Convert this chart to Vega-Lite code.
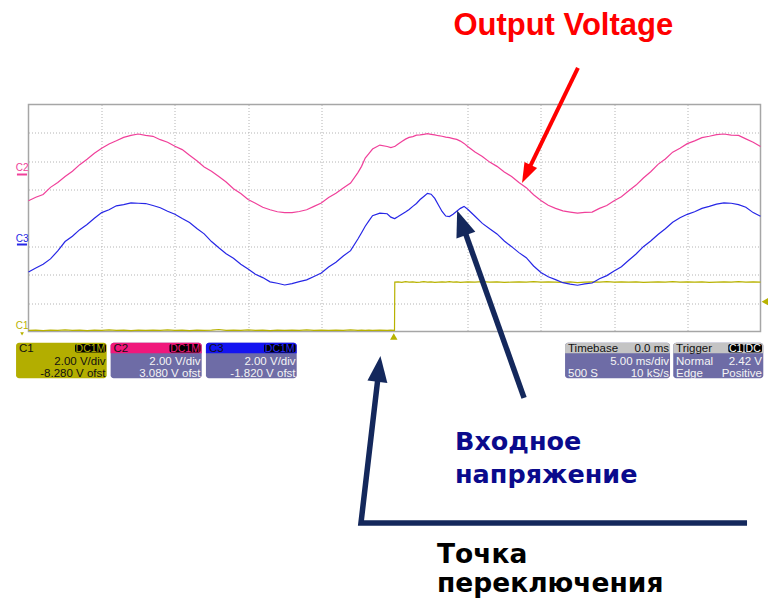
{
"$schema":"https://vega.github.io/schema/vega-lite/v6.json",
"width":732,"height":227,
"autosize":{"type":"none"},
"padding":{"left":28.5,"top":104.5,"right":7.5,"bottom":269.5},
"background":"#ffffff",
"config":{"view":{"stroke":"#a6a6a6","strokeWidth":1.5}},
"data":{"values":[
{"t":-25,"C2":0.61,"C3":-1.90,"C1":-3.96},
{"t":-24.5,"C2":0.73,"C3":-1.76,"C1":-3.95},
{"t":-24,"C2":0.83,"C3":-1.63,"C1":-3.97},
{"t":-23.5,"C2":1.08,"C3":-1.44,"C1":-3.95},
{"t":-23,"C2":1.25,"C3":-1.16,"C1":-3.96},
{"t":-22.5,"C2":1.46,"C3":-0.83,"C1":-3.94},
{"t":-22,"C2":1.65,"C3":-0.64,"C1":-3.96},
{"t":-21.5,"C2":1.88,"C3":-0.41,"C1":-3.95},
{"t":-21,"C2":2.07,"C3":-0.23,"C1":-3.97},
{"t":-20.5,"C2":2.28,"C3":-0.01,"C1":-3.95},
{"t":-20,"C2":2.46,"C3":0.19,"C1":-3.96},
{"t":-19.5,"C2":2.61,"C3":0.29,"C1":-3.94},
{"t":-19,"C2":2.72,"C3":0.43,"C1":-3.96},
{"t":-18.5,"C2":2.84,"C3":0.47,"C1":-3.95},
{"t":-18,"C2":2.91,"C3":0.53,"C1":-3.97},
{"t":-17.5,"C2":2.96,"C3":0.52,"C1":-3.95},
{"t":-17,"C2":2.91,"C3":0.51,"C1":-3.96},
{"t":-16.5,"C2":2.88,"C3":0.44,"C1":-3.95},
{"t":-16,"C2":2.76,"C3":0.36,"C1":-3.96},
{"t":-15.5,"C2":2.67,"C3":0.24,"C1":-3.94},
{"t":-15,"C2":2.53,"C3":0.13,"C1":-3.96},
{"t":-14.5,"C2":2.41,"C3":-0.02,"C1":-3.95},
{"t":-14,"C2":2.21,"C3":-0.16,"C1":-3.97},
{"t":-13.5,"C2":2.02,"C3":-0.37,"C1":-3.95},
{"t":-13,"C2":1.80,"C3":-0.56,"C1":-3.96},
{"t":-12.5,"C2":1.65,"C3":-0.83,"C1":-3.95},
{"t":-12,"C2":1.46,"C3":-1.05,"C1":-3.93},
{"t":-11.5,"C2":1.27,"C3":-1.26,"C1":-3.96},
{"t":-11,"C2":1.03,"C3":-1.42,"C1":-3.95},
{"t":-10.5,"C2":0.86,"C3":-1.63,"C1":-3.96},
{"t":-10,"C2":0.65,"C3":-1.80,"C1":-3.94},
{"t":-9.5,"C2":0.52,"C3":-1.98,"C1":-3.96},
{"t":-9,"C2":0.38,"C3":-2.10,"C1":-3.95},
{"t":-8.5,"C2":0.29,"C3":-2.25,"C1":-3.97},
{"t":-8,"C2":0.22,"C3":-2.30,"C1":-3.95},
{"t":-7.5,"C2":0.19,"C3":-2.36,"C1":-3.96},
{"t":-7,"C2":0.19,"C3":-2.31,"C1":-3.95},
{"t":-6.5,"C2":0.23,"C3":-2.24,"C1":-3.96},
{"t":-6,"C2":0.29,"C3":-2.18,"C1":-3.94},
{"t":-5.5,"C2":0.41,"C3":-2.06,"C1":-3.96},
{"t":-5,"C2":0.53,"C3":-1.94,"C1":-3.95},
{"t":-4.5,"C2":0.72,"C3":-1.73,"C1":-3.96},
{"t":-4,"C2":0.87,"C3":-1.56,"C1":-3.95},
{"t":-3.5,"C2":1.06,"C3":-1.34,"C1":-3.96},
{"t":-3,"C2":1.23,"C3":-1.15,"C1":-3.94},
{"t":-2.5,"C2":1.60,"C3":-0.74,"C1":-3.96},
{"t":-2.25,"C2":1.82,"C3":-0.52,"C1":-3.95},
{"t":-2,"C2":2.11,"C3":-0.29,"C1":-3.96},
{"t":-1.75,"C2":2.27,"C3":-0.10,"C1":-3.95},
{"t":-1.5,"C2":2.43,"C3":0.08,"C1":-3.96},
{"t":-1,"C2":2.57,"C3":0.17,"C1":-3.95},
{"t":-0.5,"C2":2.52,"C3":0.15,"C1":-3.96},
{"t":-0.25,"C2":2.48,"C3":0.03,"C1":-3.95},
{"t":0,"C2":2.52,"C3":-0.02,"C1":-3.96},
{"t":0.02,"C2":2.52,"C3":-0.02,"C1":-2.26},
{"t":0.25,"C2":2.61,"C3":0.05,"C1":-2.25},
{"t":0.5,"C2":2.70,"C3":0.13,"C1":-2.27},
{"t":0.75,"C2":2.78,"C3":0.21,"C1":-2.24},
{"t":1,"C2":2.84,"C3":0.30,"C1":-2.26},
{"t":1.25,"C2":2.87,"C3":0.41,"C1":-2.25},
{"t":1.5,"C2":2.92,"C3":0.51,"C1":-2.27},
{"t":1.75,"C2":2.93,"C3":0.65,"C1":-2.26},
{"t":2,"C2":2.95,"C3":0.76,"C1":-2.24},
{"t":2.25,"C2":2.97,"C3":0.87,"C1":-2.26},
{"t":2.5,"C2":2.95,"C3":0.84,"C1":-2.25},
{"t":2.75,"C2":2.93,"C3":0.69,"C1":-2.27},
{"t":3,"C2":2.90,"C3":0.46,"C1":-2.26},
{"t":3.25,"C2":2.88,"C3":0.23,"C1":-2.25},
{"t":3.5,"C2":2.85,"C3":0.07,"C1":-2.26},
{"t":3.75,"C2":2.83,"C3":0.05,"C1":-2.24},
{"t":4,"C2":2.80,"C3":0.13,"C1":-2.26},
{"t":4.25,"C2":2.77,"C3":0.24,"C1":-2.25},
{"t":4.5,"C2":2.71,"C3":0.34,"C1":-2.27},
{"t":4.75,"C2":2.63,"C3":0.41,"C1":-2.26},
{"t":5,"C2":2.52,"C3":0.31,"C1":-2.25},
{"t":5.5,"C2":2.33,"C3":0.06,"C1":-2.26},
{"t":6,"C2":2.17,"C3":-0.19,"C1":-2.24},
{"t":6.5,"C2":1.97,"C3":-0.38,"C1":-2.26},
{"t":7,"C2":1.82,"C3":-0.56,"C1":-2.25},
{"t":7.5,"C2":1.62,"C3":-0.81,"C1":-2.27},
{"t":8,"C2":1.46,"C3":-1.01,"C1":-2.26},
{"t":8.5,"C2":1.25,"C3":-1.22,"C1":-2.25},
{"t":9,"C2":1.07,"C3":-1.40,"C1":-2.26},
{"t":9.5,"C2":0.82,"C3":-1.69,"C1":-2.24},
{"t":10,"C2":0.62,"C3":-1.92,"C1":-2.26},
{"t":10.5,"C2":0.45,"C3":-2.07,"C1":-2.25},
{"t":11,"C2":0.34,"C3":-2.17,"C1":-2.26},
{"t":11.5,"C2":0.25,"C3":-2.28,"C1":-2.27},
{"t":12,"C2":0.21,"C3":-2.33,"C1":-2.25},
{"t":12.5,"C2":0.17,"C3":-2.37,"C1":-2.28},
{"t":13,"C2":0.20,"C3":-2.32,"C1":-2.26},
{"t":13.5,"C2":0.21,"C3":-2.29,"C1":-2.25},
{"t":14,"C2":0.34,"C3":-2.14,"C1":-2.26},
{"t":14.5,"C2":0.44,"C3":-2.03,"C1":-2.24},
{"t":15,"C2":0.61,"C3":-1.87,"C1":-2.26},
{"t":15.5,"C2":0.75,"C3":-1.72,"C1":-2.25},
{"t":16,"C2":0.96,"C3":-1.49,"C1":-2.26},
{"t":16.5,"C2":1.16,"C3":-1.27,"C1":-2.25},
{"t":17,"C2":1.41,"C3":-1.01,"C1":-2.27},
{"t":17.5,"C2":1.63,"C3":-0.81,"C1":-2.26},
{"t":18,"C2":1.89,"C3":-0.58,"C1":-2.25},
{"t":18.5,"C2":2.08,"C3":-0.38,"C1":-2.26},
{"t":19,"C2":2.32,"C3":-0.15,"C1":-2.24},
{"t":19.5,"C2":2.46,"C3":0.01,"C1":-2.26},
{"t":20,"C2":2.62,"C3":0.13,"C1":-2.25},
{"t":20.5,"C2":2.72,"C3":0.22,"C1":-2.26},
{"t":21,"C2":2.83,"C3":0.34,"C1":-2.25},
{"t":21.5,"C2":2.88,"C3":0.41,"C1":-2.27},
{"t":22,"C2":2.94,"C3":0.49,"C1":-2.26},
{"t":22.5,"C2":2.96,"C3":0.53,"C1":-2.25},
{"t":23,"C2":2.92,"C3":0.52,"C1":-2.26},
{"t":23.5,"C2":2.91,"C3":0.47,"C1":-2.24},
{"t":24,"C2":2.79,"C3":0.38,"C1":-2.26},
{"t":24.5,"C2":2.67,"C3":0.19,"C1":-2.25},
{"t":25,"C2":2.52,"C3":0.06,"C1":-2.26}
]},
"encoding":{
"x":{"field":"t","type":"quantitative","scale":{"domain":[-25,25],"nice":false,"zero":false},"axis":{"values":[-20,-15,-10,-5,5,10,15,20],"grid":true,"gridColor":"#b4b4b4","gridDash":[1,2],"gridWidth":1,"labels":false,"ticks":false,"domain":false,"title":null}},
"y":{"field":"v","type":"quantitative","scale":{"domain":[-4,4],"nice":false,"zero":false},"axis":{"values":[-3,-2,-1,1,2,3],"grid":true,"gridColor":"#b4b4b4","gridDash":[1,2],"gridWidth":1,"labels":false,"ticks":false,"domain":false,"title":null}}
},
"layer":[
{"data":{"values":[{"v":2.5},{"v":-2.5}]},"mark":{"type":"rule","color":"#a8a8a8","strokeWidth":1,"strokeDash":[1,13.64]},"encoding":{"x":{"datum":-25},"x2":{"datum":25}}},
{"data":{"values":[{"v":0}]},"mark":{"type":"rule","color":"#b4b4b4","strokeWidth":1},"encoding":{"x":{"datum":-25},"x2":{"datum":25}}},
{"data":{"values":[{"v":0}]},"mark":{"type":"rule","color":"#b4b4b4","strokeWidth":5,"strokeDash":[1,13.64]},"encoding":{"x":{"datum":-25},"x2":{"datum":25}}},
{"data":{"values":[{"t":0}]},"mark":{"type":"rule","color":"#b4b4b4","strokeWidth":1},"encoding":{"y":{"datum":-4},"y2":{"datum":4}}},
{"data":{"values":[{"t":0}]},"mark":{"type":"rule","color":"#b4b4b4","strokeWidth":5,"strokeDash":[1,4.675]},"encoding":{"y":{"datum":-4},"y2":{"datum":4}}},
{"transform":[{"fold":["C1","C2","C3"],"as":["ch","v"]}],"mark":{"type":"line","strokeWidth":1.2},"encoding":{"color":{"field":"ch","type":"nominal","scale":{"domain":["C1","C2","C3"],"range":["#b8b200","#f0409a","#2626e6"]},"legend":null}}},
{"data":{"values":[{"t":-25.79,"t2":-25.1,"v":1.533}]},"mark":{"type":"rule","color":"#f0409a","strokeWidth":2},"encoding":{"x2":{"field":"t2"}}},
{"data":{"values":[{"t":-25.79,"t2":-25.1,"v":-0.934}]},"mark":{"type":"rule","color":"#2626e6","strokeWidth":2},"encoding":{"x2":{"field":"t2"}}},
{"data":{"values":[{"t":-25.44,"v":1.76,"label":"C2"}]},"mark":{"type":"text","font":"Liberation Sans","fontSize":10,"color":"#f0409a","align":"center","baseline":"middle"},"encoding":{"text":{"field":"label"}}},
{"data":{"values":[{"t":-25.44,"v":-0.74,"label":"C3"}]},"mark":{"type":"text","font":"Liberation Sans","fontSize":10,"color":"#2626e6","align":"center","baseline":"middle"},"encoding":{"text":{"field":"label"}}},
{"data":{"values":[{"t":-25.44,"v":-3.8,"label":"C1"}]},"mark":{"type":"text","font":"Liberation Sans","fontSize":10,"color":"#b8b200","align":"center","baseline":"middle"},"encoding":{"text":{"field":"label"}}},
{"data":{"values":[{"t":-25.44,"v":-4.08}]},"mark":{"type":"point","shape":"triangle-down","filled":true,"size":14,"color":"#b8b200","opacity":1}},
{"data":{"values":[{"t":-0.05,"v":-4.176}]},"mark":{"type":"point","shape":"triangle-up","filled":true,"size":55,"color":"#b8b200","opacity":1}},
{"data":{"values":[{"t":25.31,"v":-2.95}]},"mark":{"type":"point","shape":"triangle-left","filled":true,"size":60,"color":"#b8b200","opacity":1}},
{"data":{"values":[{"t":-25.85,"t2":-19.66,"v":-4.395,"v2":-5.649}]},"mark":{"type":"rect","fill":"#b3ae00","cornerRadius":3},"encoding":{"x2":{"field":"t2"},"y2":{"field":"v2"}}},
{"data":{"values":[{"t":-19.39,"t2":-13.17,"v":-4.395,"v2":-5.649},{"t":-12.88,"t2":-6.68,"v":-4.395,"v2":-5.649},{"t":11.65,"t2":18.82,"v":-4.395,"v2":-5.649},{"t":19.04,"t2":25.19,"v":-4.395,"v2":-5.649}]},"mark":{"type":"rect","fill":"#6e6ca6","cornerRadius":3},"encoding":{"x2":{"field":"t2"},"y2":{"field":"v2"}}},
{"data":{"values":[{"t":-19.39,"t2":-13.17,"v":-4.395,"v2":-4.768}]},"mark":{"type":"rect","fill":"#f0187c","cornerRadiusTopLeft":3,"cornerRadiusTopRight":3},"encoding":{"x2":{"field":"t2"},"y2":{"field":"v2"}}},
{"data":{"values":[{"t":-12.88,"t2":-6.68,"v":-4.395,"v2":-4.768}]},"mark":{"type":"rect","fill":"#1414f0","cornerRadiusTopLeft":3,"cornerRadiusTopRight":3},"encoding":{"x2":{"field":"t2"},"y2":{"field":"v2"}}},
{"data":{"values":[{"t":11.65,"t2":18.82,"v":-4.395,"v2":-4.768},{"t":19.04,"t2":25.19,"v":-4.395,"v2":-4.768}]},"mark":{"type":"rect","fill":"#c4c4c4","cornerRadiusTopLeft":3,"cornerRadiusTopRight":3},"encoding":{"x2":{"field":"t2"},"y2":{"field":"v2"}}},
{"data":{"values":[{"t":-21.82,"t2":-19.71,"v":-4.44,"v2":-4.74},{"t":-15.37,"t2":-13.25,"v":-4.44,"v2":-4.74},{"t":-8.91,"t2":-6.76,"v":-4.44,"v2":-4.74},{"t":22.8,"t2":23.83,"v":-4.44,"v2":-4.74},{"t":23.91,"t2":25.1,"v":-4.44,"v2":-4.74}]},"mark":{"type":"rect","fill":"#000000","cornerRadius":2},"encoding":{"x2":{"field":"t2"},"y2":{"field":"v2"}}},
{"data":{"values":[{"t":-25.65,"v":-4.71,"label":"C1"},{"t":-19.19,"v":-4.71,"label":"C2"},{"t":-12.67,"v":-4.71,"label":"C3"},{"t":11.85,"v":-4.71,"label":"Timebase"},{"t":19.23,"v":-4.71,"label":"Trigger"}]},"mark":{"type":"text","font":"Liberation Sans","fontSize":11.5,"color":"#111111","align":"left","baseline":"alphabetic"},"encoding":{"text":{"field":"label"}}},
{"data":{"values":[{"t":18.75,"v":-4.71,"label":"0.0 ms"},{"t":-19.74,"v":-5.18,"label":"2.00 V/div"},{"t":-19.74,"v":-5.59,"label":"-8.280 V ofst"}]},"mark":{"type":"text","font":"Liberation Sans","fontSize":11.5,"color":"#111111","align":"right","baseline":"alphabetic"},"encoding":{"text":{"field":"label"}}},
{"data":{"values":[{"t":-13.25,"v":-5.18,"label":"2.00 V/div"},{"t":-13.25,"v":-5.59,"label":"3.080 V ofst"},{"t":-6.76,"v":-5.18,"label":"2.00 V/div"},{"t":-6.76,"v":-5.59,"label":"-1.820 V ofst"},{"t":18.75,"v":-5.18,"label":"5.00 ms/div"},{"t":18.75,"v":-5.59,"label":"10 kS/s"},{"t":25.1,"v":-5.18,"label":"2.42 V"},{"t":25.1,"v":-5.59,"label":"Positive"}]},"mark":{"type":"text","font":"Liberation Sans","fontSize":11.5,"color":"#f4f4f4","align":"right","baseline":"alphabetic"},"encoding":{"text":{"field":"label"}}},
{"data":{"values":[{"t":11.85,"v":-5.59,"label":"500 S"},{"t":19.23,"v":-5.18,"label":"Normal"},{"t":19.23,"v":-5.59,"label":"Edge"}]},"mark":{"type":"text","font":"Liberation Sans","fontSize":11.5,"color":"#f4f4f4","align":"left","baseline":"alphabetic"},"encoding":{"text":{"field":"label"}}},
{"data":{"values":[{"t":-20.77,"v":-4.71,"label":"DC1M"}]},"mark":{"type":"text","font":"Liberation Sans","fontSize":10.5,"color":"#b3ae00","align":"center","baseline":"alphabetic"},"encoding":{"text":{"field":"label"}}},
{"data":{"values":[{"t":-14.31,"v":-4.71,"label":"DC1M"}]},"mark":{"type":"text","font":"Liberation Sans","fontSize":10.5,"color":"#f0187c","align":"center","baseline":"alphabetic"},"encoding":{"text":{"field":"label"}}},
{"data":{"values":[{"t":-7.84,"v":-4.71,"label":"DC1M"}]},"mark":{"type":"text","font":"Liberation Sans","fontSize":10.5,"color":"#2a2aff","align":"center","baseline":"alphabetic"},"encoding":{"text":{"field":"label"}}},
{"data":{"values":[{"t":23.31,"v":-4.71,"label":"C1"},{"t":24.5,"v":-4.71,"label":"DC"}]},"mark":{"type":"text","font":"Liberation Sans","fontSize":10.5,"color":"#ffffff","align":"center","baseline":"alphabetic"},"encoding":{"text":{"field":"label"}}},
{"data":{"values":[{"t":12.53,"v":5.29,"o":1},{"t":9.04,"v":1.58,"o":2}]},"mark":{"type":"line","color":"#ff0000","strokeWidth":4,"strokeCap":"butt"},"encoding":{"order":{"field":"o"}}},
{"data":{"values":[{"t":8.71,"v":1.233}]},"mark":{"type":"point","shape":"M0,0L0.7,2L-0.7,2Z","filled":true,"size":400,"angle":206,"color":"#ff0000","opacity":1,"strokeWidth":0}},
{"data":{"values":[{"t":8.85,"v":-6.34,"o":1},{"t":4.6,"v":-0.18,"o":2}]},"mark":{"type":"line","color":"#14285c","strokeWidth":5.5,"strokeCap":"butt"},"encoding":{"order":{"field":"o"}}},
{"data":{"values":[{"t":4.28,"v":0.26}]},"mark":{"type":"point","shape":"M0,0L0.77,2L-0.77,2Z","filled":true,"size":676,"angle":340.4,"color":"#14285c","opacity":1,"strokeWidth":0}},
{"data":{"values":[{"t":24.08,"v":-10.75,"o":1},{"t":-2.29,"v":-10.75,"o":2},{"t":-1.06,"v":-5.32,"o":3}]},"mark":{"type":"line","color":"#14285c","strokeWidth":5.5,"strokeCap":"butt","strokeJoin":"miter"},"encoding":{"order":{"field":"o"}}},
{"data":{"values":[{"t":-0.96,"v":-4.86}]},"mark":{"type":"point","shape":"M0,0L0.77,2L-0.77,2Z","filled":true,"size":676,"angle":6.7,"color":"#14285c","opacity":1,"strokeWidth":0}},
{"data":{"values":[{"t":11.53,"v":6.45,"label":"Output Voltage"}]},"mark":{"type":"text","font":"Liberation Sans","fontWeight":"bold","fontSize":31,"color":"#ff0000","align":"center","baseline":"alphabetic"},"encoding":{"text":{"field":"label"}}},
{"data":{"values":[{"t":4.13,"v":-8.18,"label":"Входное"},{"t":4.13,"v":-9.34,"label":"напряжение"}]},"mark":{"type":"text","font":"DejaVu Sans","fontWeight":"bold","fontSize":25.5,"color":"#0a0a8c","align":"left","baseline":"alphabetic"},"encoding":{"text":{"field":"label"}}},
{"data":{"values":[{"t":2.9,"v":-12.17,"label":"Точка"},{"t":2.9,"v":-13.18,"label":"переключения"}]},"mark":{"type":"text","font":"DejaVu Sans","fontWeight":"bold","fontSize":26.5,"color":"#000000","align":"left","baseline":"alphabetic"},"encoding":{"text":{"field":"label"}}}
]
}
